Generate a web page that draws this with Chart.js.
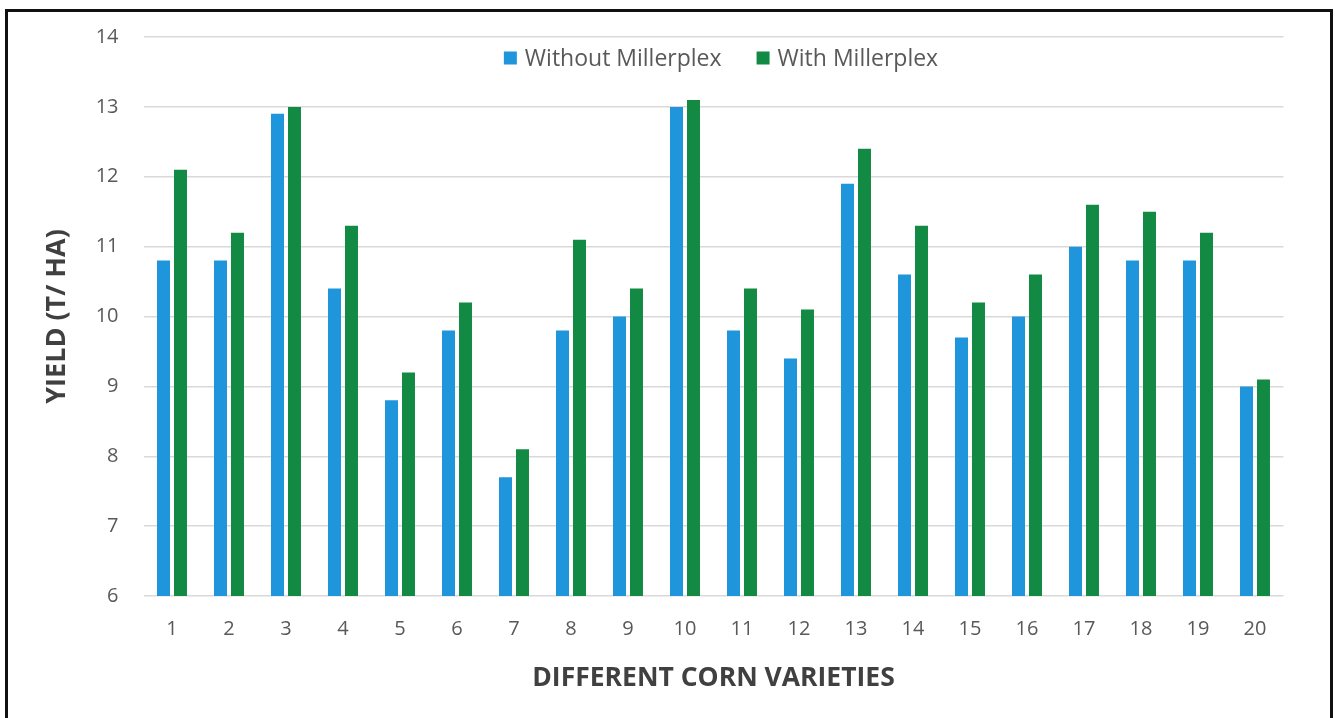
<!DOCTYPE html>
<html>
<head>
<meta charset="utf-8">
<script src="https://cdn.jsdelivr.net/npm/chart.js@4.4.1/dist/chart.umd.min.js"></script>
<style>
  html, body { margin: 0; padding: 0; background: #ffffff; overflow: hidden; }
  #wrap { position: relative; width: 1335px; height: 718px; }
  #frame {
    position: absolute; left: 5px; top: 9px; width: 1322px; height: 760px;
    border: 3px solid #111111; border-bottom: none; box-sizing: content-box;
    pointer-events: none;
  }
  canvas { position: absolute; left: 0; top: 0; }
</style>
</head>
<body>
<div id="wrap">
  <canvas id="c" width="1335" height="718"></canvas>
  <div id="frame"></div>
</div>
<script>
// Corn varieties 1..20 and yields in t/ha
const varieties = ['1','2','3','4','5','6','7','8','9','10','11','12','13','14','15','16','17','18','19','20'];
const withoutMillerplex = [10.8, 10.8, 12.9, 10.4, 8.8, 9.8, 7.7, 9.8, 10.0, 13.0, 9.8, 9.4, 11.9, 10.6, 9.7, 10.0, 11.0, 10.8, 10.8, 9.0];
const withMillerplex    = [12.1, 11.2, 13.0, 11.3, 9.2, 10.2, 8.1, 11.1, 10.4, 13.1, 10.4, 10.1, 12.4, 11.3, 10.2, 10.6, 11.6, 11.5, 11.2, 9.1];
const seriesNames = ['Without Millerplex', 'With Millerplex'];
const yTicks = [6, 7, 8, 9, 10, 11, 12, 13, 14];

const BLUE = '#1f95dc';
const GREEN = '#138a43';
const TEXT = '#595959';
const TITLE = '#404040';
const FONT = "'Open Sans', 'Liberation Sans', sans-serif";

// Legend drawn inside the plot, between the top two gridlines
const insideLegend = {
  id: 'insideLegend',
  afterDraw(chart) {
    const ctx = chart.ctx;
    const box = 13, gapText = 8, gapItem = 35;
    ctx.save();
    ctx.font = '23px ' + FONT;
    ctx.textBaseline = 'middle';
    ctx.textAlign = 'left';
    const items = chart.data.datasets.map(ds => ({
      label: ds.label, color: ds.backgroundColor, w: ctx.measureText(ds.label).width
    }));
    let total = 0;
    items.forEach((it, i) => { total += box + gapText + it.w + (i ? gapItem : 0); });
    const cx = 721;
    const y = 58;
    let x = cx - total / 2;
    items.forEach((it, i) => {
      if (i) x += gapItem;
      ctx.fillStyle = it.color;
      ctx.fillRect(x, y - box / 2, box, box);
      x += box + gapText;
      ctx.fillStyle = TEXT;
      ctx.fillText(it.label, x, y + 1);
      x += it.w;
    });
    ctx.restore();
  }
};

new Chart(document.getElementById('c'), {
  type: 'bar',
  data: {
    labels: varieties,
    datasets: [
      { label: seriesNames[0], data: withoutMillerplex, backgroundColor: BLUE },
      { label: seriesNames[1], data: withMillerplex, backgroundColor: GREEN }
    ]
  },
  options: {
    responsive: false,
    devicePixelRatio: 1,
    animation: false,
    categoryPercentage: 0.596,
    barPercentage: 0.765,
    layout: { padding: { left: 0, right: 51.5, top: 35, bottom: 0 } },
    plugins: {
      legend: { display: false },
      tooltip: { enabled: false }
    },
    scales: {
      x: {
        grid: { display: false, drawTicks: false },
        border: { display: false },
        ticks: { color: TEXT, font: { family: FONT, size: 20 }, padding: 21 },
        title: {
          display: true, text: 'DIFFERENT CORN VARIETIES', color: TITLE,
          font: { family: FONT, size: 26.5, weight: 'bold' }, padding: { top: 0, bottom: 24 }
        },
        afterFit(scale) { scale.height = 122; }
      },
      y: {
        min: 6, max: 14,
        afterBuildTicks(scale) { scale.ticks = yTicks.map(v => ({ value: v })); },
        grid: { color: '#d9d9d9', lineWidth: 1.5, drawTicks: false },
        border: { display: false },
        ticks: { color: TEXT, font: { family: FONT, size: 20 }, padding: 25 },
        title: {
          display: true, text: 'YIELD (T/ HA)', color: TITLE,
          font: { family: FONT, size: 27, weight: 'bold' }, padding: { top: 41, bottom: 0 }
        },
        afterFit(scale) { scale.width = 143.5; }
      }
    }
  },
  plugins: [insideLegend]
});
</script>
</body>
</html>
